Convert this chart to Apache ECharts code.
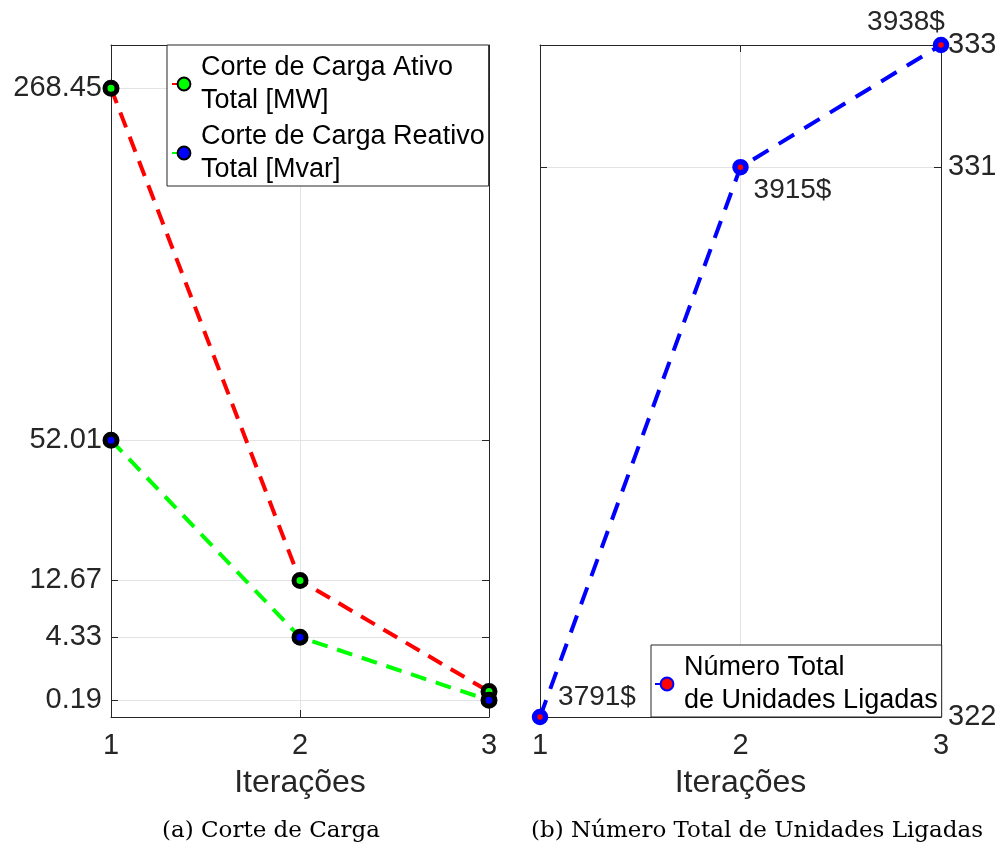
<!DOCTYPE html>
<html>
<head>
<meta charset="utf-8">
<script src="https://cdn.jsdelivr.net/npm/echarts@6/dist/echarts.min.js"></script>
<style>
html,body{margin:0;padding:0;background:#fff;}
#chart{width:1003px;height:847px;}
</style>
</head>
<body>
<div id="chart"></div>
<script>
// ---- data ----
const iterations = [1, 2, 3];
const activeCut = [268.45, 12.67, 0.44];     // Corte de Carga Ativo Total [MW]
const reactiveCut = [52.01, 4.33, 0.19];     // Corte de Carga Reativo Total [Mvar]
const leftTicks = [0.19, 4.33, 12.67, 52.01, 268.45];
const leftMax = 306.6;
const unitsOn = [322, 331, 333];             // Número Total de Unidades Ligadas
const costLabels = ['3791$', '3915$', '3938$'];
const rightTicks = [322, 331, 333];
const rightMin = 322, rightMax = 333;

const nameActive = 'Corte de Carga Ativo\nTotal [MW]';
const nameReactive = 'Corte de Carga Reativo\nTotal [Mvar]';
const nameUnits = 'Número Total\nde Unidades Ligadas';

// square-root scale helpers (left panel)
const tr = v => Math.sqrt(v);
const leftTickPos = leftTicks.map(tr);
function leftLabel(val) {
  let best = 0, d = Infinity;
  leftTickPos.forEach((p, i) => { const dd = Math.abs(p - val); if (dd < d) { d = dd; best = i; } });
  return leftTicks[best].toFixed(2);
}

const FONT = 'Liberation Sans, Arial, Helvetica, sans-serif';
const AX = '#262626';
const GRIDC = '#e3e3e3';

const G0 = {left: 111, top: 45, width: 378, height: 672};
const G1 = {left: 540, top: 45, width: 401, height: 672};

function xMain(gi) {
  return {
    type: 'value', gridIndex: gi, min: 1, max: 3, interval: 1, position: 'bottom',
    axisLine: {show: true, onZero: false, lineStyle: {color: AX, width: 1}},
    axisTick: {show: true, inside: true, length: 7, lineStyle: {color: AX}},
    axisLabel: {show: true, fontSize: 29, color: AX, fontFamily: FONT, margin: 14},
    splitLine: {show: true, lineStyle: {color: GRIDC, width: 1}},
    name: 'Iterações', nameLocation: 'middle', nameGap: 50,
    nameTextStyle: {fontSize: 32, color: AX, fontFamily: FONT}
  };
}
function xMirror(gi) {
  return {
    type: 'value', gridIndex: gi, min: 1, max: 3, interval: 1, position: 'top',
    axisLine: {show: true, onZero: false, lineStyle: {color: AX, width: 1}},
    axisTick: {show: true, inside: true, length: 7, lineStyle: {color: AX}},
    axisLabel: {show: false}, splitLine: {show: false}
  };
}

const option = {
  animation: false,
  backgroundColor: '#fff',
  grid: [
    Object.assign({containLabel: false}, G0),
    Object.assign({containLabel: false}, G1)
  ],
  xAxis: [xMain(0), xMirror(0), xMain(1), xMirror(1)],
  yAxis: [
    { // left panel, labelled, sqrt scale
      type: 'value', gridIndex: 0, min: 0, max: tr(leftMax), position: 'left',
      axisLine: {show: true, onZero: false, lineStyle: {color: AX}},
      axisTick: {show: true, inside: true, length: 7, lineStyle: {color: AX}, customValues: leftTickPos},
      axisLabel: {show: true, fontSize: 29, color: AX, fontFamily: FONT, margin: 9,
                  customValues: leftTickPos, formatter: leftLabel},
      splitLine: {show: true, lineStyle: {color: GRIDC}}
    },
    { // left panel mirror (right side)
      type: 'value', gridIndex: 0, min: 0, max: tr(leftMax), position: 'right',
      axisLine: {show: true, onZero: false, lineStyle: {color: AX}},
      axisTick: {show: true, inside: true, length: 7, lineStyle: {color: AX}, customValues: leftTickPos},
      axisLabel: {show: false}, splitLine: {show: false}
    },
    { // right panel, labelled on right
      type: 'value', gridIndex: 1, min: rightMin, max: rightMax, position: 'right',
      axisLine: {show: true, onZero: false, lineStyle: {color: AX}},
      axisTick: {show: true, inside: true, length: 7, lineStyle: {color: AX}, customValues: rightTicks},
      axisLabel: {show: true, fontSize: 29, color: AX, fontFamily: FONT, margin: 7,
                  customValues: rightTicks},
      splitLine: {show: true, lineStyle: {color: GRIDC}}
    },
    { // right panel mirror (left side)
      type: 'value', gridIndex: 1, min: rightMin, max: rightMax, position: 'left',
      axisLine: {show: true, onZero: false, lineStyle: {color: AX}},
      axisTick: {show: true, inside: true, length: 7, lineStyle: {color: AX}, customValues: rightTicks},
      axisLabel: {show: false}, splitLine: {show: false}
    }
  ],
  legend: [
    {
      data: [nameActive, nameReactive],
      orient: 'vertical', left: 167, top: 45,
      backgroundColor: '#fff', borderColor: AX, borderWidth: 1,
      padding: [6, 4, 0, 4], itemGap: 3, itemWidth: 24, itemHeight: 16,
      textStyle: {fontSize: 27, lineHeight: 33, color: '#000', fontFamily: FONT}
    },
    {
      data: [nameUnits],
      orient: 'vertical', left: 651, top: 645,
      backgroundColor: '#fff', borderColor: AX, borderWidth: 1,
      padding: [6, 4, 0, 3], itemWidth: 24, itemHeight: 16,
      textStyle: {fontSize: 27, lineHeight: 33, color: '#000', fontFamily: FONT}
    }
  ],
  series: [
    {
      name: nameActive, type: 'line', xAxisIndex: 0, yAxisIndex: 0, clip: false,
      data: iterations.map((x, i) => [x, tr(activeCut[i])]),
      symbol: 'circle', symbolSize: 12,
      lineStyle: {color: '#ff0000', width: 4, type: [16, 10]},
      itemStyle: {color: '#00ff00', borderColor: '#000', borderWidth: 5},
      z: 3
    },
    {
      name: nameReactive, type: 'line', xAxisIndex: 0, yAxisIndex: 0, clip: false,
      data: iterations.map((x, i) => [x, tr(reactiveCut[i])]),
      symbol: 'circle', symbolSize: 12,
      lineStyle: {color: '#00ff00', width: 4, type: [16, 10]},
      itemStyle: {color: '#0000ff', borderColor: '#000', borderWidth: 5},
      z: 4
    },
    {
      name: nameUnits, type: 'line', xAxisIndex: 2, yAxisIndex: 2, clip: false,
      data: iterations.map((x, i) => {
        const offs = [[57, -20], [52, 23], [-35, -23]];
        return {value: [x, unitsOn[i]],
                label: {show: true, formatter: costLabels[i], position: 'inside', offset: offs[i]}};
      }),
      symbol: 'circle', symbolSize: 11,
      lineStyle: {color: '#0000ff', width: 4, type: [18, 12]},
      itemStyle: {color: '#ff0000', borderColor: '#0000ff', borderWidth: 5.5},
      label: {fontSize: 28, color: AX, fontFamily: FONT},
      z: 3
    }
  ],
  graphic: [
    {type: 'text', x: 271, y: 831, style: {text: '(a) Corte de Carga', fontSize: 23,
      fontFamily: 'DejaVu Serif, serif', fill: '#000', align: 'center', verticalAlign: 'middle'}},
    {type: 'text', x: 757, y: 831, style: {text: '(b) Número Total de Unidades Ligadas', fontSize: 23,
      fontFamily: 'DejaVu Serif, serif', fill: '#000', align: 'center', verticalAlign: 'middle'}}
  ]
};

const chart = echarts.init(document.getElementById('chart'), null, {renderer: 'canvas'});
chart.setOption(option);
</script>
</body>
</html>
